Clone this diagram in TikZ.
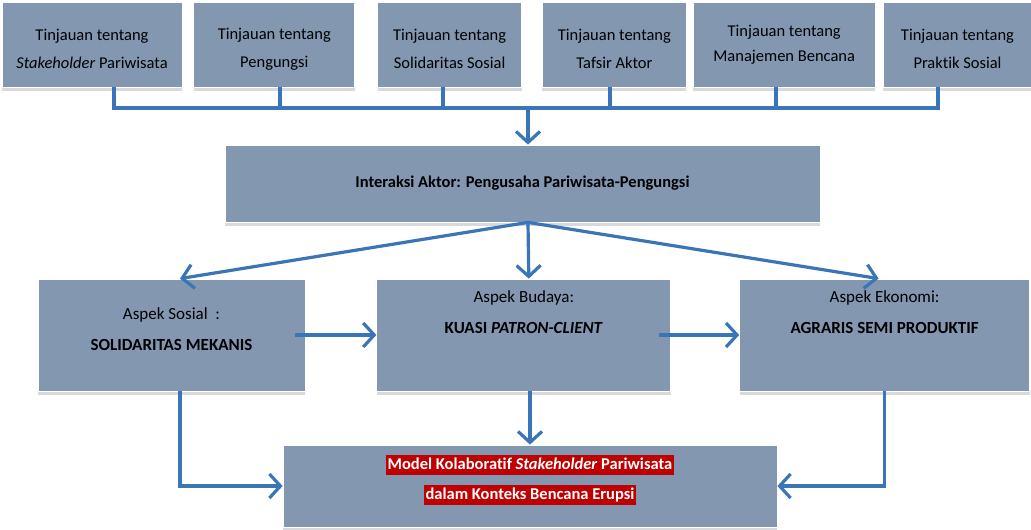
\documentclass[tikz,border=0pt]{standalone}
\usepackage{fontspec}
\setmainfont{Carlito}[Ligatures=NoCommon]
\usetikzlibrary{arrows.meta, positioning, shadows}
\definecolor{boxblue}{HTML}{8497B0}
\definecolor{linkblue}{HTML}{3A75B8}
\definecolor{hlred}{HTML}{C00000}
\newcommand{\hlbox}[1]{{\setlength{\fboxsep}{2pt}\colorbox{hlred}{\rule[-0.25em]{0pt}{1em}\color{white}#1}}}

\begin{document}
\begin{tikzpicture}[
  x=1pt, y=-1pt,
  block/.style={rectangle, draw=white, line width=0.8pt, fill=boxblue, inner sep=2pt, drop shadow={shadow xshift=0pt, shadow yshift=-4pt, opacity=0.3}},
  review/.style={block, minimum height=85pt},
  aspect/.style={block, minimum height=112pt},
  caption/.style={align=center, inner sep=0pt, font=\fontsize{17}{31}\selectfont},
  line/.style={draw=linkblue, line width=3.2pt},
  arrow/.style={draw=linkblue, line width=3.2pt, -{Straight Barb[length=11pt, width=24pt]}}
]
\useasboundingbox (0,0) rectangle (1031,530);

% ------------------------------------------------------------
% Literature reviews
% ------------------------------------------------------------

\node[review, minimum width=180pt] (t1) at (92,44.5) {};
\node[review, minimum width=161pt, right=11pt of t1] (t2) {};
\node[review, minimum width=144pt, right=22pt of t2] (t3) {};
\node[review, minimum width=144pt, right=20pt of t3] (t4) {};
\node[review, minimum width=182pt, right=6pt of t4] (t5) {};
\node[review, minimum width=149pt, right=7pt of t5] (t6) {};

\node[caption, font=\fontsize{16.5}{28}\selectfont] (t1txt) at ([yshift=-4.5pt]t1.center) {Tinjauan tentang\\\textit{Stakeholder} Pariwisata};
\node[caption, font=\fontsize{16.5}{28}\selectfont] (t2txt) at ([yshift=-4.5pt]t2.center) {Tinjauan tentang\\Pengungsi};
\node[caption, font=\fontsize{16.5}{28}\selectfont] (t3txt) at ([yshift=-4.5pt]t3.center) {Tinjauan tentang\\Solidaritas Sosial};
\node[caption, font=\fontsize{16.5}{28}\selectfont] (t4txt) at ([yshift=-4.5pt]t4.center) {Tinjauan tentang\\Tafsir Aktor};
\node[caption, font=\fontsize{16.5}{25}\selectfont] (t5txt) at (t5.center) {Tinjauan tentang\\Manajemen Bencana};
\node[caption, font=\fontsize{16.5}{28}\selectfont] (t6txt) at ([yshift=-4.5pt]t6.center) {Tinjauan tentang\\Praktik Sosial};

\foreach \i/\x in {1/114, 2/280, 3/443, 4/610, 5/776, 6/938} {
  \coordinate (d\i) at (\x,108);
}
\coordinate (bus) at (528,108);

\draw[line] (t1.south -| d1) -- (d1) -- (d6) -- (t6.south -| d6);
\foreach \i in {2,...,5} {
  \draw[line] (t\i.south -| d\i) -- (d\i);
}

% ------------------------------------------------------------
% Actor interaction
% ------------------------------------------------------------

\node[block, minimum width=595pt, minimum height=77pt, font=\fontsize{16.5}{20}\selectfont\bfseries] (inter) at (522.5,183.5) {Interaksi Aktor: Pengusaha Pariwisata-Pengungsi};

\draw[arrow] (bus) -- (bus |- inter.north);

% ------------------------------------------------------------
% Aspects
% ------------------------------------------------------------

\node[aspect, minimum width=267pt] (sosial) at (171.5,335) {};
\node[aspect, minimum width=294pt, right=71pt of sosial] (budaya) {};
\node[aspect, minimum width=290pt, right=68pt of budaya] (ekonomi) {};

\node[caption, below=29pt of sosial.north] (sosialtxt) {Aspek Sosial~~:\\\textbf{SOLIDARITAS MEKANIS}};
\node[caption, below=11.5pt of budaya.north] (budayatxt) {Aspek Budaya:\\\textbf{KUASI \textit{PATRON-CLIENT}}};
\node[caption, below=12pt of ekonomi.north] (ekonomitxt) {Aspek Ekonomi:\\\textbf{AGRARIS SEMI PRODUKTIF}};

\coordinate (split) at (bus |- inter.south);
\draw[arrow] (split) -- ([xshift=8.5pt]sosial.north);
\draw[arrow] (split) -- ([xshift=5pt]budaya.north);
\draw[arrow] (split) -- ([xshift=-6pt]ekonomi.north);

\draw[arrow] ([xshift=-10pt]sosial.east) -- (budaya.west);
\draw[arrow] ([xshift=-12pt]budaya.east) -- (ekonomi.west);

% ------------------------------------------------------------
% Collaborative model
% ------------------------------------------------------------

\node[block, minimum width=494pt, minimum height=82pt] (model) at (530,486) {};
\node[caption, font=\fontsize{16.5}{30}\selectfont\bfseries] (modeltxt) at ([yshift=6pt]model.center) {\hlbox{Model Kolaboratif \textit{Stakeholder} Pariwisata}\\\hlbox{dalam Konteks Bencana Erupsi}};

\draw[arrow] (model.north |- budaya.south) -- (model.north);
\draw[arrow] ([xshift=8.5pt]sosial.south) |- (model.west);
\draw[arrow] (ekonomi.south) |- (model.east);

\end{tikzpicture}
\end{document}
